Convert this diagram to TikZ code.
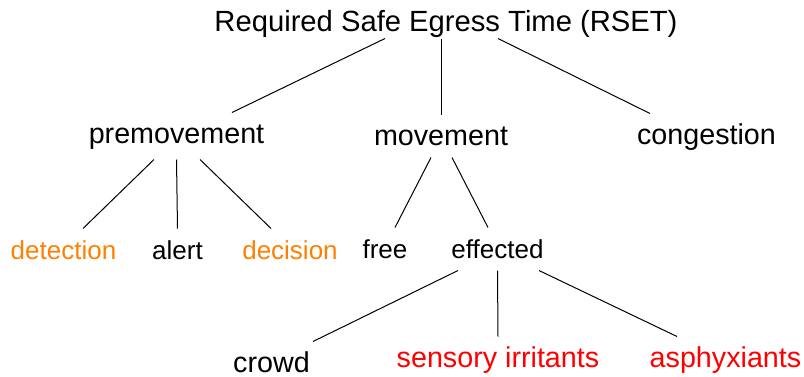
\documentclass[tikz,border=0pt]{standalone}
\usepackage{fontspec}
\setmainfont{Liberation Sans}
\begin{document}
\begin{tikzpicture}[x=0.5pt, y=-0.5pt, line width=0.5pt,
    term/.style={inner sep=0pt, anchor=base, text height=15pt, text depth=6pt, font=\fontsize{14.35pt}{17pt}\selectfont},
    subterm/.style={term, font=\fontsize{13pt}{15pt}\selectfont}]
    \useasboundingbox (0,0) rectangle (804,376);
    
    \node[term, text depth=3.5pt, font=\fontsize{14.6pt}{17pt}\selectfont] (RSET) at (446,31) {Required Safe Egress Time (RSET)};
    
    \node[term, text depth=8pt] (premov) at (176.5,143) {premovement};
    \node[term] (mov) at (441,145) {movement};
    \node[term] (cong) at (706.5,144) {congestion};
    
    \node[subterm, orange] (detect) at (63.5,259) {detection};
    \node[subterm] (alert) at (177.5,259) {alert};
    \node[subterm, orange] (decide) at (290,259) {decision};
    \node[subterm] (free) at (385,258) {free};
    \node[subterm] (effect) at (497.5,258) {effected};
    
    \node[term] (crowd) at (271.5,372) {crowd};
    \node[term, red] (irrit) at (498,367) {sensory irritants};
    \node[term, red] (asphyx) at (725.5,367) {asphyxiants};
    
    \draw ([xshift=-30.5pt]RSET.south) -- ([xshift=27.75pt]premov.north);
    \draw ([xshift=-2.5pt]RSET.south) -- (mov.north);
    \draw ([xshift=26pt]RSET.south) -- ([xshift=-28.25pt]cong.north);
    
    \draw ([xshift=-11.25pt]premov.south) -- ([xshift=9.75pt]detect.north);
    \draw (premov.south) -- (alert.north);
    \draw ([xshift=11.75pt]premov.south) -- ([xshift=-9.5pt]decide.north);
    
    \draw ([xshift=-5pt]mov.south) -- ([xshift=5pt]free.north);
    \draw ([xshift=5.5pt]mov.south) -- ([xshift=-4.75pt]effect.north);
    
    \draw ([xshift=-19.75pt]effect.south) -- ([xshift=20.75pt]crowd.north);
    \draw (effect.south) -- (irrit.north);
    \draw ([xshift=20.75pt]effect.south) -- ([xshift=-24.25pt]asphyx.north);
\end{tikzpicture}
\end{document}
